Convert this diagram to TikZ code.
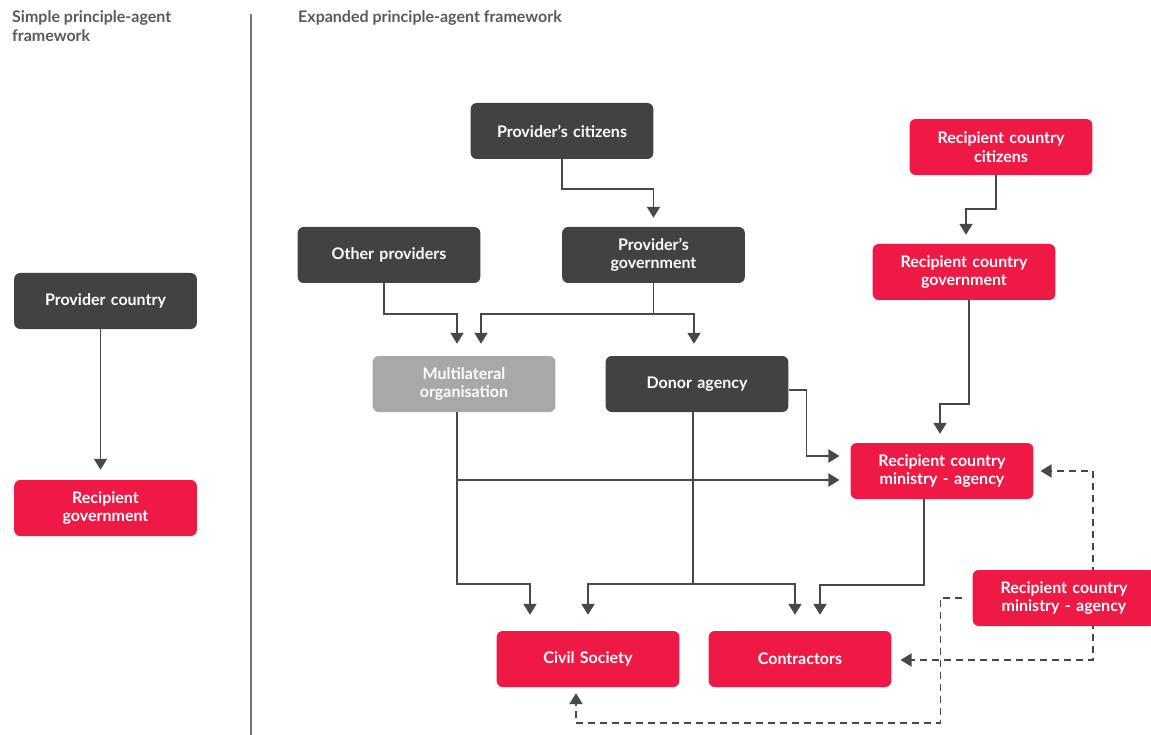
\documentclass[tikz,border=0pt]{standalone}
\usepackage{fontspec}
\setmainfont{Lato}
\usetikzlibrary{arrows.meta}
\usepackage{xcolor}
\definecolor{boxdark}{HTML}{414242}
\definecolor{boxred}{HTML}{EE1A45}
\definecolor{boxgrey}{HTML}{A7A8AA}
\definecolor{linkgrey}{HTML}{474848}
\definecolor{titlegrey}{HTML}{58595B}

\begin{document}
\begin{tikzpicture}[x=1pt, y=-1pt,
  box/.style={rectangle, rounded corners=6pt, minimum width=182pt, minimum height=56pt,
    text width=176pt, align=center, text=white, font=\fontsize{16}{18.5}\selectfont\bfseries, anchor=center},
  dark/.style={box, fill=boxdark},
  red/.style={box, fill=boxred},
  grey/.style={box, fill=boxgrey},
  link/.style={draw=linkgrey, line width=1.9pt, -{Triangle[width=13pt,length=11pt]}, shorten >=10pt},
  dlink/.style={link, dash pattern=on 7pt off 5pt},
  heading/.style={anchor=north west, align=left, text=titlegrey, inner sep=0pt, font=\fontsize{16}{19}\selectfont\bfseries}]
  \useasboundingbox (0,0) rectangle (1151,735);

  \node[heading] (lhead) at (12,10) {Simple principle-agent\\framework};
  \node[heading] (rhead) at (298,10) {Expanded principle-agent framework};
  \draw[linkgrey!75, line width=1.3pt] (251,14) -- (251,735);

  \node[dark] (pcountry) at (105.5,301) {Provider country};
  \node[red]  (rgov)     at (105.5,508) {Recipient\\government};
  \draw[link] ([xshift=-5pt]pcountry.south) -- ([xshift=-5pt]rgov.north);

  \node[dark] (pcit)   at (562,131)   {Provider’s citizens};
  \node[dark] (oprov)  at (389,255)   {Other providers};
  \node[dark] (pgov)   at (653.5,255) {Provider’s\\government};
  \node[grey] (multi)  at (464,384)   {Multilateral\\organisation};
  \node[dark] (donor)  at (697,384)   {Donor agency};
  \node[red]  (rccit)  at (1001,147)  {Recipient country\\citizens};
  \node[red]  (rcgov)  at (964,272)   {Recipient country\\government};
  \node[red]  (rcmin)  at (942,471)   {Recipient country\\ministry - agency};
  \node[red]  (civil)  at (588,659)   {Civil Society};
  \node[red]  (contr)  at (800,659)   {Contractors};

  \draw[link, shorten >=9pt] (pcit.south) -- ++(0,30) -| (pgov.north);
  \draw[link, shorten >=12pt] ([xshift=-5pt]oprov.south) -- ++(0,31) -| ([xshift=-7pt]multi.north);
  \draw[link, shorten >=12pt] (pgov.south) -- ++(0,31) -| ([xshift=17pt]multi.north);
  \draw[link, shorten >=12pt] (pgov.south) -- ++(0,31) -| ([xshift=-3pt]donor.north);
  \draw[link, shorten >=11pt] ([xshift=-7pt]multi.south) |- ([yshift=-9pt]rcmin.west);
  \draw[link, shorten >=16pt] ([xshift=-7pt]multi.south) -- ++(0,172) -| ([xshift=-58pt]civil.north);
  \draw[link, shorten >=16pt] ([xshift=-4pt]donor.south) -- ++(0,172) -| (civil.north);
  \draw[link, shorten >=16pt] ([xshift=-4pt]donor.south) -- ++(0,172) -| ([xshift=-5pt]contr.north);
  \draw[link, shorten >=11pt] ([yshift=-6pt]donor.east) -- ++(18,0) |- ([yshift=15pt]rcmin.west);
  \draw[link, shorten >=16pt] ([xshift=-18pt]rcmin.south) -- ++(0,86) -| ([xshift=20pt]contr.north);
  \draw[link, shorten >=9pt] ([xshift=-5pt]rccit.south) -- ++(0,34) -| ([xshift=2pt]rcgov.north);
  \draw[link, shorten >=9pt] ([xshift=5pt]rcgov.south) -- ++(0,104) -| ([xshift=-2pt]rcmin.north);

  \coordinate (rcmin2pos) at (1064,598);
  \draw[dlink, shorten >=7pt] ([xshift=29pt]rcmin2pos) |- (rcmin.east);
  \draw[dlink, shorten >=9pt] ([xshift=29pt]rcmin2pos) |- ([yshift=-1pt]contr.east);
  \node[red]  (rcmin2) at (rcmin2pos) {Recipient country\\ministry - agency};
  \draw[dlink, shorten >=6pt] ([xshift=-10pt]rcmin2.west) -| ++(-22,125) -| ([xshift=-12pt]civil.south);
\end{tikzpicture}
\end{document}
